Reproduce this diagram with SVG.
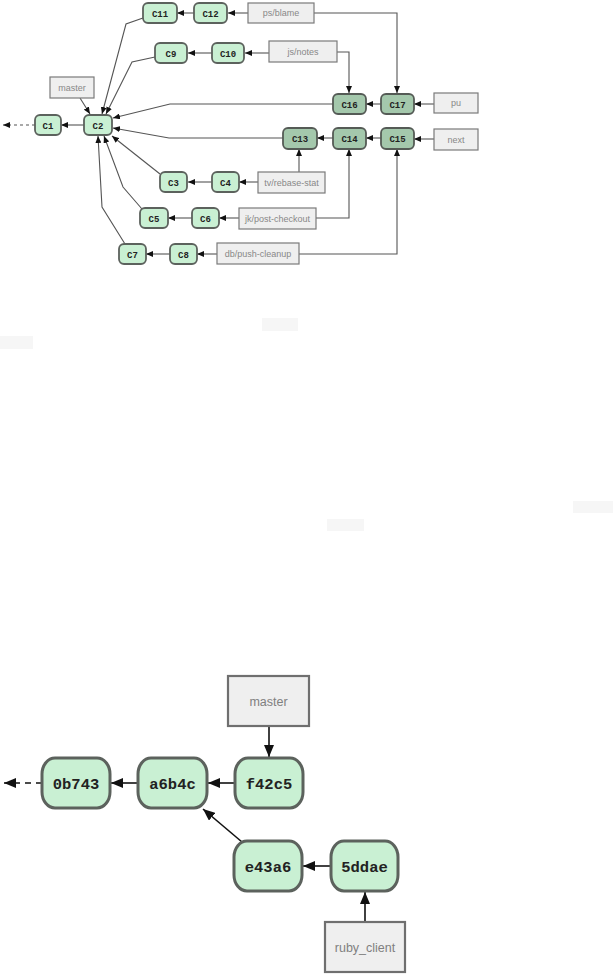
<svg xmlns="http://www.w3.org/2000/svg" width="615" height="974" viewBox="0 0 615 974">
<style>
.c{fill:#c9f0d3;stroke:#5c625d;stroke-width:1.8}
.d{fill:#a4c8ac;stroke:#555b56;stroke-width:1.8}
.b{fill:#efefef;stroke:#7a7a7a;stroke-width:1.2}
.ct{font-family:"Liberation Mono",monospace;font-weight:bold;font-size:9px;fill:#222;text-anchor:middle}
.bt{font-family:"Liberation Sans",Arial,sans-serif;font-size:9px;fill:#888;text-anchor:middle}
.C{fill:#c9f0d3;stroke:#5c625d;stroke-width:3}
.B{fill:#efefef;stroke:#6f6f6f;stroke-width:2.2}
.CT{font-family:"Liberation Mono",monospace;font-weight:bold;font-size:15.5px;fill:#222;text-anchor:middle}
.BT{font-family:"Liberation Sans",Arial,sans-serif;font-size:12.5px;fill:#808080;text-anchor:middle}
.l{fill:none;stroke:#555;stroke-width:1.1;marker-end:url(#a)}
.L{fill:none;stroke:#111;stroke-width:1.6;marker-end:url(#A)}
.f{fill:#f6f6f6}
</style>
<defs>
<marker id="a" markerWidth="7" markerHeight="6" refX="7" refY="3" orient="auto" markerUnits="userSpaceOnUse"><path d="M0,0 L7,3 L0,6 z" fill="#111"/></marker>
<marker id="A" markerWidth="12" markerHeight="10" refX="12" refY="5" orient="auto" markerUnits="userSpaceOnUse"><path d="M0,0 L12,5 L0,10 z" fill="#111"/></marker>
</defs>
<g id="faint">
<rect class="f" x="262" y="318" width="36" height="13"/>
<rect class="f" x="0" y="336" width="33" height="13"/>
<rect class="f" x="327" y="519" width="37" height="12"/>
<rect class="f" x="573" y="501" width="40" height="12"/>
</g>
<g id="connectors">
<path class="l" d="M84,125 L61,125"/>
<path class="l" d="M35,125 L3,125" stroke-dasharray="3,3"/>
<path class="l" d="M80,98 L90,114"/>
<path class="l" d="M143,18 L126,24 L102,114"/>
<path class="l" d="M155,57 L132,62 L106,114"/>
<path class="l" d="M333,104 L170,104 L113,118"/>
<path class="l" d="M283,138 L169,138 L113,128"/>
<path class="l" d="M160,174 L112,136"/>
<path class="l" d="M142,209 L123,187 L104,136"/>
<path class="l" d="M125,244 L102,207 L98,136"/>
<path class="l" d="M194,13 L177,13"/>
<path class="l" d="M248,13 L228,13"/>
<path class="l" d="M212,53 L188,53"/>
<path class="l" d="M269,53 L245,53"/>
<path class="l" d="M314,13 L397,13 L397,93"/>
<path class="l" d="M337,52 L349,52 L349,93"/>
<path class="l" d="M381,104 L366,104"/>
<path class="l" d="M434,104 L414,104"/>
<path class="l" d="M333,138 L317,138"/>
<path class="l" d="M381,138 L366,138"/>
<path class="l" d="M434,139 L414,139"/>
<path class="l" d="M212,182 L188,182"/>
<path class="l" d="M258,182 L239,182"/>
<path class="l" d="M299,172 L299,149"/>
<path class="l" d="M192,218 L168,218"/>
<path class="l" d="M239,218 L219,218"/>
<path class="l" d="M316,218 L349,218 L349,149"/>
<path class="l" d="M170,254 L146,254"/>
<path class="l" d="M217,254 L197,254"/>
<path class="l" d="M299,254 L397,254 L397,149"/>
<path class="L" d="M42,783 L4,783" stroke-dasharray="6,5"/>
<path class="L" d="M138,783 L111,783"/>
<path class="L" d="M235,783 L208,783"/>
<path class="L" d="M269,726 L269,757"/>
<path class="L" d="M242,842 L203,809"/>
<path class="L" d="M331,866 L303,866"/>
<path class="L" d="M365,922 L365,892"/>
</g>
<g id="C1"><rect class="c" x="35" y="115" width="26" height="20" rx="5"/><text class="ct" x="48" y="128.5">C1</text></g>
<g id="C2"><rect class="c" x="84" y="115" width="28" height="20" rx="5"/><text class="ct" x="98" y="128.5">C2</text></g>
<g id="master1"><rect class="b" x="50" y="77" width="44" height="21"/><text class="bt" x="72" y="90.5">master</text></g>
<g id="C11"><rect class="c" x="143" y="3" width="34" height="20" rx="5"/><text class="ct" x="160" y="16.5">C11</text></g>
<g id="C12"><rect class="c" x="194" y="3" width="33" height="20" rx="5"/><text class="ct" x="210.5" y="16.5">C12</text></g>
<g id="psblame"><rect class="b" x="248" y="3" width="66" height="20"/><text class="bt" x="281" y="16">ps/blame</text></g>
<g id="C9"><rect class="c" x="155" y="43" width="32" height="20" rx="5"/><text class="ct" x="171" y="56.5">C9</text></g>
<g id="C10"><rect class="c" x="212" y="43" width="32" height="20" rx="5"/><text class="ct" x="228" y="56.5">C10</text></g>
<g id="jsnotes"><rect class="b" x="269" y="41" width="68" height="21"/><text class="bt" x="303" y="54.5">js/notes</text></g>
<g id="C16"><rect class="d" x="333" y="94" width="33" height="20" rx="5"/><text class="ct" x="349.5" y="107.5">C16</text></g>
<g id="C17"><rect class="d" x="381" y="94" width="33" height="20" rx="5"/><text class="ct" x="397.5" y="107.5">C17</text></g>
<g id="pu"><rect class="b" x="434" y="93" width="44" height="20"/><text class="bt" x="456" y="106">pu</text></g>
<g id="C13"><rect class="d" x="283" y="128" width="34" height="21" rx="5"/><text class="ct" x="300" y="141.5">C13</text></g>
<g id="C14"><rect class="d" x="333" y="128" width="33" height="21" rx="5"/><text class="ct" x="349.5" y="141.5">C14</text></g>
<g id="C15"><rect class="d" x="381" y="128" width="33" height="21" rx="5"/><text class="ct" x="397.5" y="141.5">C15</text></g>
<g id="next"><rect class="b" x="434" y="129" width="44" height="21"/><text class="bt" x="456" y="142.5">next</text></g>
<g id="C3"><rect class="c" x="160" y="172" width="27" height="20" rx="5"/><text class="ct" x="173.5" y="185.5">C3</text></g>
<g id="C4"><rect class="c" x="212" y="172" width="27" height="20" rx="5"/><text class="ct" x="225.5" y="185.5">C4</text></g>
<g id="tvrebase"><rect class="b" x="258" y="172" width="67" height="21"/><text class="bt" x="291.5" y="185.5">tv/rebase-stat</text></g>
<g id="C5"><rect class="c" x="140" y="208" width="28" height="20" rx="5"/><text class="ct" x="154" y="221.5">C5</text></g>
<g id="C6"><rect class="c" x="192" y="208" width="27" height="20" rx="5"/><text class="ct" x="205.5" y="221.5">C6</text></g>
<g id="jkpost"><rect class="b" x="239" y="208" width="77" height="21"/><text class="bt" x="277.5" y="221.5">jk/post-checkout</text></g>
<g id="C7"><rect class="c" x="119" y="244" width="27" height="20" rx="5"/><text class="ct" x="132.5" y="257.5">C7</text></g>
<g id="C8"><rect class="c" x="170" y="244" width="27" height="20" rx="5"/><text class="ct" x="183.5" y="257.5">C8</text></g>
<g id="dbpush"><rect class="b" x="217" y="243" width="82" height="21"/><text class="bt" x="258" y="256.5">db/push-cleanup</text></g>
<g id="master2"><rect class="B" x="228" y="676" width="81" height="50"/><text class="BT" x="268.5" y="706">master</text></g>
<g id="n0b743"><rect class="C" x="42" y="758" width="68" height="50" rx="13" ry="16"/><text class="CT" x="76" y="788.5">0b743</text></g>
<g id="na6b4c"><rect class="C" x="138" y="758" width="69" height="50" rx="13" ry="16"/><text class="CT" x="172.5" y="788.5">a6b4c</text></g>
<g id="nf42c5"><rect class="C" x="235" y="758" width="68" height="50" rx="13" ry="16"/><text class="CT" x="269" y="789">f42c5</text></g>
<g id="ne43a6"><rect class="C" x="234" y="841" width="68" height="50" rx="13" ry="16"/><text class="CT" x="268" y="871.5">e43a6</text></g>
<g id="n5ddae"><rect class="C" x="331" y="841" width="67" height="50" rx="13" ry="16"/><text class="CT" x="364.5" y="871.5">5ddae</text></g>
<g id="ruby"><rect class="B" x="325" y="922" width="80" height="50"/><text class="BT" x="365" y="952">ruby_client</text></g>
</svg>
